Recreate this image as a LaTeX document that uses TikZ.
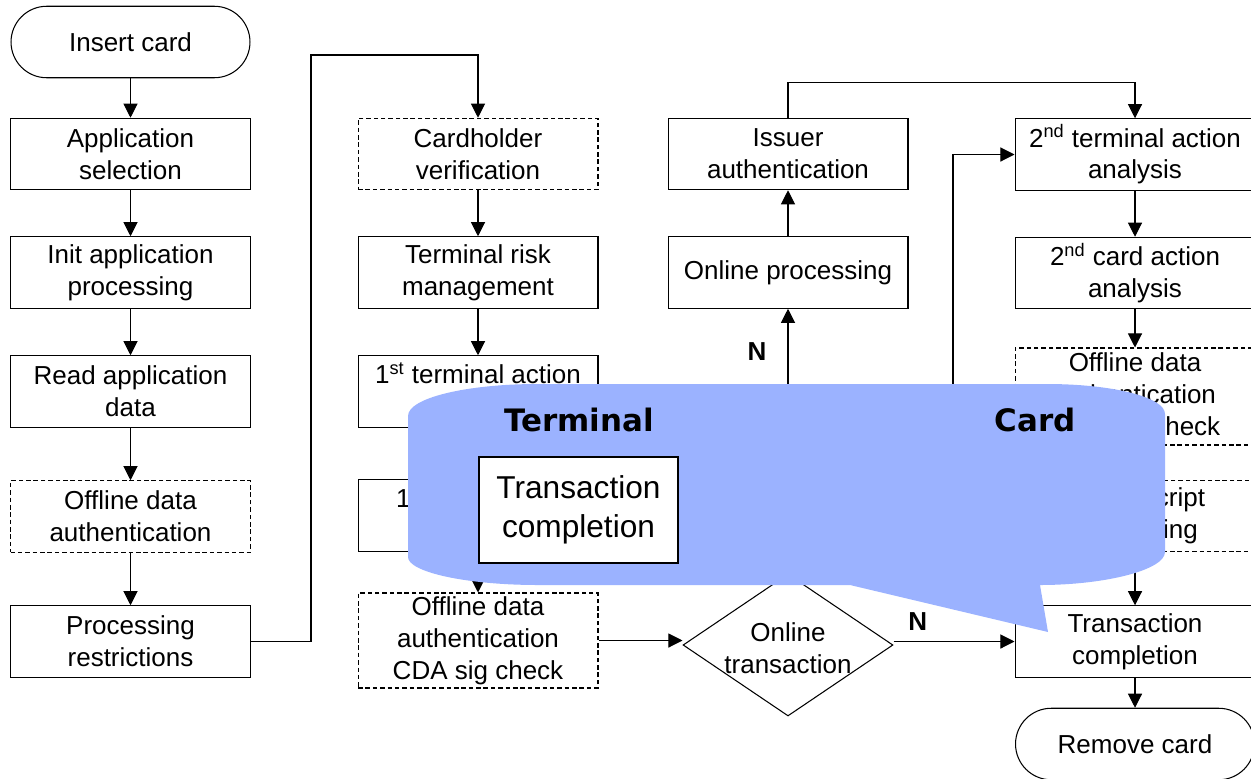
\documentclass[tikz,border=0pt]{standalone}
\usepackage{fontspec}
\setmainfont{Liberation Sans}
\newfontfamily\heavyfont{DejaVu Sans}
\usetikzlibrary{shapes.geometric,arrows.meta}
\definecolor{calloutblue}{RGB}{155,178,255}
\begin{document}
\begin{tikzpicture}[x=0.02cm,y=-0.02cm,
  every node/.style={font=\fontsize{14.8pt}{18.2pt}\selectfont, align=center, inner sep=0pt},
  stepbox/.style={draw, line width=0.6pt, minimum width=4.8cm, minimum height=1.43cm},
  optbox/.style={stepbox, dash pattern=on 2.6pt off 1.6pt},
  terminalbox/.style={draw, line width=0.6pt, rounded corners=0.715cm, minimum width=4.78cm, minimum height=1.43cm},
  decision/.style={draw, diamond, line width=0.6pt, minimum width=4.2cm, minimum height=2.84cm},
  arr/.style={line width=0.6pt, -{Triangle[length=8pt,width=8pt]}},
  lbl/.style={font=\fontsize{14.8pt}{18pt}\selectfont\bfseries},
  callout/.style={fill=calloutblue},
  heading/.style={font=\heavyfont\bfseries\fontsize{17.6pt}{20pt}\selectfont}
]
\clip (0,0) rectangle (1251,778);

% column 1
\node[terminalbox] (insert) at (130.5,42) {Insert card};
\node[stepbox] (appsel) at (130.5,154) {Application\\selection};
\node[stepbox] (init) at (130.5,272.5) {Init application\\processing};
\node[stepbox] (read) at (130.5,391.5) {Read application\\data};
\node[optbox] (oda) at (130.5,516.5) {Offline data\\authentication};
\node[stepbox] (proc) at (130.5,641.5) {Processing\\restrictions};

% column 2
\node[optbox] (cvm) at (478,154) {Cardholder\\verification};
\node[stepbox] (trm) at (478,272.5) {Terminal risk\\management};
\node[stepbox] (taa) at (478,391.5) {1\textsuperscript{st} terminal action\\analysis};
\node[stepbox] (caa) at (478,515.5) {1\textsuperscript{st} card action\\analysis};
\node[optbox, minimum height=1.9cm] (cda) at (478,640.5) {Offline data\\authentication\\CDA sig check};

% column 3
\node[stepbox] (iss) at (788,154) {Issuer\\authentication};
\node[stepbox] (onl) at (788,272.5) {Online processing};
\node[decision] (dia) at (788,645) {};
\node at (788,648) {Online\\transaction};

% column 4
\node[stepbox] (taa2) at (1135,154.5) {2\textsuperscript{nd} terminal action\\analysis};
\node[stepbox] (caa2) at (1135,273) {2\textsuperscript{nd} card action\\analysis};
\node[optbox, minimum height=1.94cm] (cda2) at (1135,396.5) {Offline data\\authentication\\CDA sig check};
\node[optbox] (script) at (1135,516) {Issuer script\\processing};
\node[stepbox] (tc) at (1135,641.5) {Transaction\\completion};
\node[terminalbox] (remove) at (1135,744) {Remove card};

% connectors
\draw[arr] (insert) -- (appsel);
\draw[arr] (appsel) -- (init);
\draw[arr] (init) -- (read);
\draw[arr] (read) -- (oda);
\draw[arr] (oda) -- (proc);
\coordinate (jump) at (311,55);
\draw[arr] (proc.east) -| (jump) -| (cvm.north);
\draw[arr] (cvm) -- (trm);
\draw[arr] (trm) -- (taa);
\draw[arr] (taa) -- (caa);
\draw[arr] (caa) -- (cda);
\draw[arr] (cda.east) -- (cda.east -| dia.west);
\draw[arr] (tc.west -| dia.east) -- node[lbl, above=6pt, pos=0.2] (nright) {N} (tc.west);
\draw[arr] (dia.north) -- node[lbl, left=12pt, pos=0.84] (nup) {N} (onl.south);
\draw[arr] (onl) -- (iss);
\draw[arr] (iss.north) -- ++(0,-35) -| (taa2.north);
\coordinate (feed) at (953,540);
\draw[arr] (feed) |- (taa2.west);
\draw[arr] (taa2) -- (caa2);
\draw[arr] (caa2) -- (cda2);
\draw[arr] (cda2) -- (script);
\draw[arr] (script) -- (tc);
\draw[arr] (tc) -- (remove);

% speech callout laid over the flow
\fill[callout] (408,416) .. controls (408,398) and (466,384) .. (538,384)
  -- (1047,384) .. controls (1112,384) and (1165,397) .. (1165,414)
  -- (1165,552) .. controls (1165,570) and (1105,585) .. (1040,585)
  -- (1048,632) -- (850,585) -- (538,585)
  .. controls (466,585) and (408,572) .. (408,557) -- cycle;
\node[heading] (term) at (579,420) {Terminal};
\node[heading] (card) at (1035,420) {Card};
\node[draw, fill=white, line width=0.6pt, minimum width=3.98cm, minimum height=2.12cm,
  font=\fontsize{18pt}{22pt}\selectfont] (tcbig) at (578.5,510) {Transaction\\completion};
\end{tikzpicture}
\end{document}
